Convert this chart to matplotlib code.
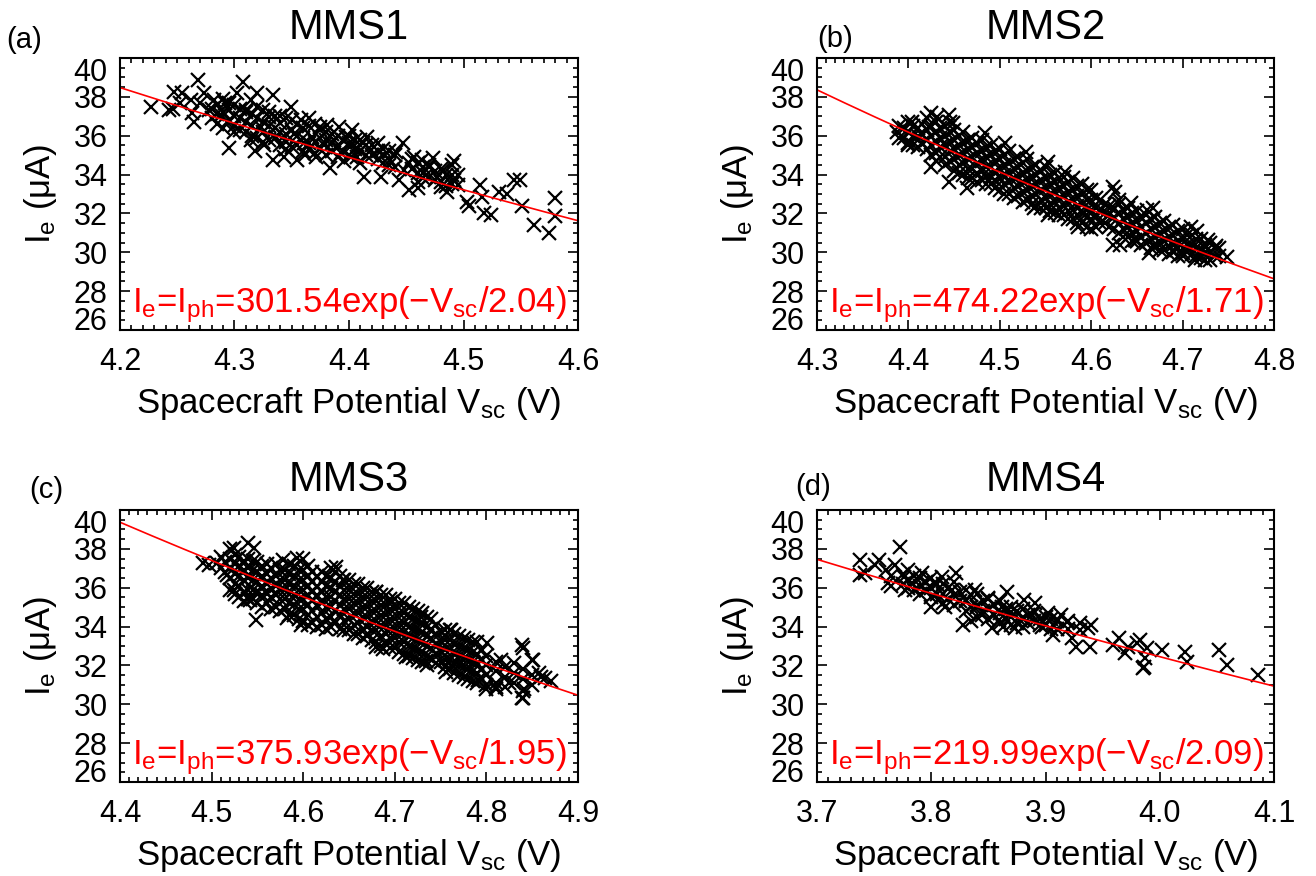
"""
photo-electron current vs spacecraft potential for the four MMS probes
"""

import numpy as np
import matplotlib
matplotlib.use('Agg')
from matplotlib import pyplot as plt
from matplotlib.ticker import MultipleLocator

plt.rcParams['font.family'] = ['Liberation Sans', 'DejaVu Sans']
plt.rcParams['mathtext.default'] = 'regular'

# panel setup
names = ['MMS1', 'MMS2', 'MMS3', 'MMS4']
tags = ['(a)', '(b)', '(c)', '(d)']
amp = [301.54, 474.22, 375.93, 219.99]   # I_ph
tau = [2.04, 1.71, 1.95, 2.09]          # V
xlims = [(4.2, 4.6), (4.3, 4.8), (4.4, 4.9), (3.7, 4.1)]
xticks = [[4.2, 4.3, 4.4, 4.5, 4.6], [4.3, 4.4, 4.5, 4.6, 4.7, 4.8],
          [4.4, 4.5, 4.6, 4.7, 4.8, 4.9], [3.7, 3.8, 3.9, 4.0, 4.1]]
xticklabels = [['4.2', '4.3', '4.4', '4.5', '4.6'], ['4.3', '4.4', '4.5', '4.6', '4.7', '4.8'],
               ['4.4', '4.5', '4.6', '4.7', '4.8', '4.9'], ['3.7', '3.8', '3.9', '4.0', '4.1']]
yticks = [26, 28, 30, 32, 34, 36, 38, 40]

# ---- MMS1: single points (Vsc, Ie) and denser core columns {Vsc: [Ie...]}
pts_mms1 = [(4.227, 37.50), (4.243, 37.32), (4.246, 37.40), (4.247, 38.27), (4.254, 38.18), (4.252, 37.67),
            (4.262, 37.84), (4.263, 37.15), (4.268, 38.87), (4.265, 36.72), (4.273, 38.18), (4.270, 37.67),
            (4.278, 37.33), (4.282, 37.84), (4.288, 37.07), (4.292, 37.67), (4.294, 36.64), (4.295, 35.35),
            (4.300, 36.20), (4.302, 38.18), (4.307, 38.78), (4.310, 37.24), (4.314, 37.84), (4.314, 35.78),
            (4.320, 38.18), (4.323, 36.47), (4.326, 35.54), (4.330, 36.98), (4.334, 38.10), (4.334, 34.75),
            (4.336, 35.95), (4.340, 36.64), (4.345, 35.30), (4.349, 37.50), (4.352, 36.10), (4.355, 34.75),
            (4.358, 36.80), (4.361, 35.60), (4.365, 36.90), (4.368, 35.95), (4.371, 34.90), (4.375, 36.47),
            (4.378, 35.54), (4.381, 36.55), (4.383, 34.32), (4.387, 35.78), (4.391, 36.47), (4.393, 35.10),
            (4.397, 35.95), (4.401, 35.44), (4.403, 36.30), (4.407, 34.92), (4.412, 35.61), (4.416, 35.95),
            (4.413, 33.90), (4.419, 35.27), (4.425, 35.61), (4.428, 33.90), (4.431, 35.00), (4.436, 34.75),
            (4.441, 35.18), (4.447, 35.61), (4.444, 33.72), (4.448, 34.24), (4.452, 34.58), (4.457, 34.92),
            (4.452, 33.20), (4.460, 33.30), (4.464, 34.75), (4.465, 34.07), (4.470, 34.40), (4.473, 34.84),
            (4.477, 33.90), (4.482, 34.24), (4.480, 33.38), (4.486, 33.12), (4.490, 34.50), (4.492, 33.72),
            (4.495, 33.46), (4.495, 34.00), (4.492, 34.70), (4.503, 32.60), (4.505, 32.40), (4.514, 33.46),
            (4.516, 32.85), (4.518, 32.00), (4.524, 31.90), (4.531, 33.10), (4.538, 33.00), (4.544, 33.70),
            (4.549, 33.70), (4.551, 32.40), (4.562, 31.43), (4.575, 31.00), (4.580, 32.80), (4.580, 31.85)]
core_mms1 = {4.28: [37.4, 36.9], 4.29: [37.9, 37.2, 36.4], 4.30: [37.6, 37.0, 36.5],
             4.31: [37.3, 36.7, 36.2], 4.32: [37.5, 36.9, 35.9], 4.33: [37.2, 36.5, 35.8],
             4.34: [37.0, 36.2, 35.5], 4.35: [36.8, 36.3, 35.4], 4.36: [36.4, 35.9, 35.2],
             4.37: [36.6, 35.7, 35.1], 4.38: [36.2, 35.8, 35.0], 4.39: [36.0, 35.4, 34.9],
             4.40: [36.0, 35.6, 35.0], 4.41: [35.8, 35.2, 34.6], 4.42: [35.5, 35.0],
             4.43: [35.3, 34.6], 4.44: [35.0, 34.4], 4.46: [34.6, 34.1, 33.6],
             4.47: [34.5, 33.9], 4.48: [34.3, 33.6], 4.49: [34.0, 33.5],
             4.285: [37.6, 37.1, 36.6], 4.295: [37.7, 37.3, 36.8], 4.305: [37.4, 36.9, 36.3],
             4.315: [37.1, 36.5, 36.0], 4.325: [37.3, 36.7, 36.2, 35.7], 4.335: [37.0, 36.4, 35.9],
             4.345: [36.9, 36.1, 35.7], 4.355: [36.6, 36.0, 35.5], 4.365: [36.5, 35.6, 35.3],
             4.375: [36.3, 35.9, 35.3], 4.385: [36.1, 35.6, 35.2], 4.395: [35.8, 35.2],
             4.405: [35.8, 35.3], 4.415: [35.5, 35.0], 4.425: [35.2, 34.8], 4.435: [35.2, 34.5],
             4.455: [34.8, 34.3], 4.465: [34.4, 33.8], 4.475: [34.2, 33.7], 4.485: [34.0, 33.4],
             4.318: [35.2], 4.343: [34.9], 4.362: [35.0], 4.396: [34.7], 4.402: [34.9]}

# ---- MMS2
pts_mms2 = [(4.387, 36.21), (4.404, 36.72), (4.400, 35.52), (4.425, 37.15), (4.431, 36.98), (4.444, 37.07),
            (4.449, 36.64), (4.422, 36.47), (4.425, 34.41), (4.444, 33.64), (4.464, 33.29), (4.484, 36.12),
            (4.506, 35.61), (4.529, 35.18), (4.553, 34.66), (4.571, 34.15), (4.624, 33.38), (4.626, 33.12),
            (4.630, 32.69), (4.644, 32.52), (4.661, 32.18), (4.537, 32.26), (4.553, 31.92), (4.586, 31.32),
            (4.624, 30.38), (4.648, 30.64), (4.663, 29.95), (4.668, 32.28), (4.709, 31.30), (4.716, 31.10),
            (4.728, 30.63), (4.737, 30.30), (4.749, 29.76), (4.714, 29.60), (4.700, 29.95), (4.668, 30.30),
            (4.632, 30.40), (4.650, 30.60)]
core_mms2 = {4.39: [36.5, 35.9], 4.40: [36.7, 36.2, 35.6], 4.41: [36.4, 36.0, 35.4],
             4.42: [36.9, 36.3, 35.8, 35.3], 4.43: [36.7, 36.2, 35.7, 35.1, 34.7],
             4.44: [36.5, 36.0, 35.5, 34.9, 34.5], 4.45: [36.3, 35.8, 35.3, 34.8, 34.2],
             4.46: [36.2, 35.6, 35.1, 34.6, 34.0], 4.47: [35.9, 35.4, 34.9, 34.3, 33.8],
             4.48: [35.8, 35.2, 34.7, 34.2, 33.7], 4.49: [35.5, 35.0, 34.4, 33.9, 33.5],
             4.50: [35.3, 34.8, 34.3, 33.8, 33.2], 4.51: [35.2, 34.6, 34.1, 33.6, 33.0],
             4.52: [34.9, 34.4, 33.9, 33.4, 32.9], 4.53: [34.8, 34.2, 33.7, 33.2, 32.7],
             4.54: [34.5, 34.0, 33.5, 33.0, 32.4], 4.55: [34.4, 33.8, 33.3, 32.8, 32.3],
             4.56: [34.1, 33.6, 33.1, 32.6, 32.0], 4.57: [33.9, 33.4, 32.9, 32.4, 31.9],
             4.58: [33.8, 33.2, 32.7, 32.2, 31.7], 4.59: [33.5, 33.0, 32.5, 32.0, 31.5],
             4.60: [33.2, 32.7, 32.2, 31.7, 31.2], 4.61: [32.7, 32.1, 31.5], 4.62: [32.4, 31.9, 31.3],
             4.63: [32.5, 32.0, 31.5, 31.0], 4.64: [32.3, 31.8, 31.3, 30.8],
             4.65: [32.1, 31.6, 31.1, 30.6], 4.66: [31.9, 31.5, 31.0, 30.5],
             4.67: [31.8, 31.3, 30.8, 30.3], 4.68: [31.6, 31.1, 30.6, 30.1],
             4.69: [31.4, 30.9, 30.4, 30.0], 4.70: [31.2, 30.7, 30.2, 29.8],
             4.71: [30.9, 30.4, 29.9], 4.72: [30.7, 30.1, 29.7], 4.73: [30.5, 30.0, 29.6],
             4.74: [30.2, 29.8],
             4.395: [36.4, 35.9], 4.405: [36.5, 36.0, 35.5], 4.415: [36.6, 36.1, 35.6],
             4.425: [36.5, 36.0, 35.5, 35.0], 4.435: [36.4, 35.9, 35.4, 34.9],
             4.445: [36.7, 36.2, 35.7, 35.2, 34.7], 4.455: [36.0, 35.5, 35.0, 34.5, 34.1],
             4.465: [35.8, 35.3, 34.8, 34.3, 33.8], 4.475: [35.6, 35.1, 34.6, 34.1, 33.6],
             4.485: [35.4, 34.9, 34.4, 33.9, 33.5], 4.495: [35.2, 34.7, 34.2, 33.7, 33.3],
             4.505: [35.0, 34.5, 34.0, 33.5, 33.0], 4.515: [34.8, 34.3, 33.8, 33.3, 32.8],
             4.525: [34.6, 34.1, 33.6, 33.1, 32.6], 4.535: [34.4, 33.9, 33.4, 32.9, 32.5],
             4.545: [34.2, 33.7, 33.2, 32.7, 32.3], 4.555: [34.0, 33.5, 33.0, 32.5, 32.1],
             4.565: [33.8, 33.3, 32.8, 32.3, 31.9], 4.575: [33.6, 33.1, 32.6, 32.1, 31.7],
             4.585: [33.4, 32.9, 32.4, 31.9, 31.5], 4.595: [33.2, 32.7, 32.2, 31.8, 31.3],
             4.605: [32.8, 32.3, 31.8, 31.3], 4.615: [32.5, 32.0, 31.5], 4.625: [32.3, 31.8, 31.2],
             4.635: [32.2, 31.7, 31.2, 30.8], 4.645: [32.0, 31.5, 31.0, 30.6],
             4.655: [31.8, 31.3, 30.8, 30.4], 4.665: [31.7, 31.2, 30.7, 30.2],
             4.675: [31.5, 31.0, 30.5, 30.1], 4.685: [31.3, 30.8, 30.3, 29.9],
             4.695: [31.1, 30.6, 30.2, 29.8], 4.705: [30.9, 30.4, 30.0], 4.715: [30.7, 30.2, 29.8],
             4.725: [30.4, 30.0, 29.6], 4.735: [30.2, 29.8]}

# ---- MMS3
pts_mms3 = [(4.491, 37.26), (4.497, 37.17), (4.506, 37.26), (4.524, 38.03), (4.540, 38.28), (4.546, 38.03),
            (4.517, 36.66), (4.524, 35.88), (4.535, 35.80), (4.542, 35.37), (4.549, 34.34), (4.578, 37.43),
            (4.593, 37.51), (4.582, 34.42), (4.598, 34.08), (4.636, 37.08), (4.643, 36.40), (4.680, 35.80),
            (4.696, 35.28), (4.680, 32.94), (4.687, 32.85), (4.712, 32.42), (4.729, 34.51), (4.734, 32.25),
            (4.756, 31.64), (4.763, 31.99), (4.761, 33.83), (4.839, 33.05), (4.839, 30.32), (4.841, 30.77),
            (4.851, 32.28), (4.864, 31.35), (4.816, 32.28), (4.801, 33.14), (4.791, 31.25), (4.800, 30.80),
            (4.810, 30.90), (4.825, 31.10), (4.857, 31.60), (4.870, 31.20)]
core_mms3 = {4.51: [37.6, 37.0], 4.52: [38.0, 37.5, 37.0, 36.5, 35.9],
             4.53: [37.6, 37.1, 36.6, 36.1, 35.5], 4.54: [37.5, 37.0, 36.5, 35.9, 35.4],
             4.55: [37.3, 36.8, 36.3, 35.8, 35.2], 4.56: [37.2, 36.7, 36.2, 35.7, 35.2],
             4.57: [37.2, 36.6, 36.1, 35.6, 35.0], 4.58: [36.9, 36.4, 35.9, 35.4, 34.9],
             4.59: [37.1, 36.6, 36.1, 35.6, 35.1, 34.6], 4.60: [37.5, 36.9, 36.4, 35.9, 35.4, 34.9, 34.3],
             4.61: [36.8, 36.3, 35.8, 35.3, 34.8, 34.2], 4.62: [36.8, 36.3, 35.8, 35.2, 34.7, 34.1],
             4.63: [37.0, 36.5, 36.0, 35.5, 35.0, 34.5, 34.0], 4.64: [36.6, 36.1, 35.6, 35.1, 34.6, 33.9],
             4.65: [36.4, 35.9, 35.4, 34.9, 34.4, 33.8], 4.66: [36.2, 35.7, 35.2, 34.7, 34.2, 33.6],
             4.67: [36.0, 35.5, 35.0, 34.5, 34.0, 33.5], 4.68: [35.8, 35.3, 34.8, 34.3, 33.8, 33.2],
             4.69: [35.6, 35.1, 34.6, 34.1, 33.6, 33.1], 4.70: [35.4, 34.9, 34.4, 33.9, 33.4, 32.9],
             4.71: [35.2, 34.7, 34.2, 33.7, 33.2, 32.6], 4.72: [34.9, 34.4, 33.9, 33.4, 32.9, 32.4],
             4.73: [34.7, 34.2, 33.7, 33.2, 32.7, 32.2], 4.74: [34.4, 33.9, 33.4, 32.9, 32.4],
             4.75: [33.7, 33.2, 32.7, 32.2], 4.76: [33.8, 33.3, 32.8, 32.3, 31.8],
             4.77: [33.5, 33.0, 32.5, 32.0, 31.5], 4.78: [33.3, 32.8, 32.3, 31.8, 31.3],
             4.79: [33.2, 32.6, 32.1, 31.6, 31.1], 4.80: [32.5, 32.0, 31.5, 31.0],
             4.81: [32.2, 31.7, 31.1, 30.8], 4.82: [31.9, 31.4, 30.9], 4.83: [32.1, 31.6, 31.1],
             4.84: [32.9, 31.8, 31.3, 30.7, 30.3], 4.85: [32.3, 31.5, 31.0], 4.86: [31.4],
             4.515: [37.3, 36.8], 4.525: [37.7, 37.2, 36.7, 36.2, 35.7],
             4.535: [37.4, 36.9, 36.4, 35.8, 35.3], 4.545: [37.4, 36.9, 36.4, 35.9, 35.4],
             4.555: [37.1, 36.6, 36.1, 35.6, 35.0], 4.565: [37.0, 36.5, 36.0, 35.5, 34.9],
             4.575: [36.9, 36.4, 35.9, 35.4, 34.8], 4.585: [37.2, 36.7, 36.2, 35.7, 35.2, 34.6],
             4.595: [36.9, 36.4, 35.9, 35.4, 34.9, 34.4], 4.605: [37.1, 36.6, 36.1, 35.6, 35.1, 34.6, 34.1],
             4.615: [36.6, 36.1, 35.6, 35.1, 34.5, 34.0], 4.625: [36.6, 36.1, 35.5, 35.0, 34.4, 33.9],
             4.635: [36.8, 36.3, 35.8, 35.3, 34.8, 34.2], 4.645: [36.4, 35.9, 35.4, 34.9, 34.3, 33.8],
             4.655: [36.2, 35.7, 35.2, 34.7, 34.1, 33.6], 4.665: [36.0, 35.5, 35.0, 34.5, 33.9, 33.4],
             4.675: [35.8, 35.3, 34.8, 34.3, 33.8, 33.3], 4.685: [35.6, 35.1, 34.6, 34.1, 33.5, 33.0],
             4.695: [35.4, 34.9, 34.4, 33.9, 33.4, 32.9], 4.705: [35.2, 34.7, 34.2, 33.7, 33.2, 32.7],
             4.715: [35.0, 34.5, 34.0, 33.5, 33.0, 32.5], 4.725: [34.8, 34.3, 33.8, 33.3, 32.8, 32.3],
             4.735: [34.5, 34.0, 33.5, 33.0, 32.5, 32.0], 4.745: [34.1, 33.6, 33.1, 32.6, 32.1],
             4.755: [33.8, 33.3, 32.8, 32.3, 31.9], 4.765: [33.6, 33.1, 32.6, 32.1, 31.6],
             4.775: [33.4, 32.9, 32.4, 31.9, 31.4], 4.785: [33.2, 32.7, 32.2, 31.7, 31.2],
             4.795: [32.8, 32.3, 31.8, 31.3]}

# ---- MMS4
pts_mms4 = [(3.738, 37.43), (3.738, 36.66), (3.742, 36.74), (3.754, 37.43), (3.751, 37.17), (3.760, 36.91),
            (3.773, 38.11), (3.768, 37.17), (3.762, 36.23), (3.776, 36.57), (3.777, 35.88), (3.783, 36.23),
            (3.792, 36.74), (3.795, 35.88), (3.800, 35.03), (3.802, 36.23), (3.809, 36.57), (3.806, 35.37),
            (3.822, 36.74), (3.818, 35.88), (3.812, 35.03), (3.828, 34.09), (3.830, 35.37), (3.838, 35.88),
            (3.840, 35.03), (3.844, 34.60), (3.853, 33.92), (3.850, 35.46), (3.859, 34.34), (3.862, 35.03),
            (3.866, 35.80), (3.870, 34.77), (3.873, 33.91), (3.878, 34.34), (3.881, 35.37), (3.888, 34.60),
            (3.891, 35.20), (3.897, 34.00), (3.902, 34.69), (3.907, 33.57), (3.911, 34.34), (3.914, 34.60),
            (3.919, 34.26), (3.923, 33.40), (3.927, 32.97), (3.937, 33.91), (3.940, 34.09), (3.939, 32.97),
            (3.959, 33.06), (3.964, 33.40), (3.972, 32.97), (3.980, 33.14), (3.983, 33.31), (3.986, 31.94),
            (3.989, 32.88), (3.970, 32.62), (3.987, 32.40), (3.985, 31.85), (4.002, 32.79), (4.022, 32.70),
            (4.024, 32.18), (4.052, 32.79), (4.059, 32.02), (4.086, 31.50)]
core_mms4 = {3.78: [36.9, 36.4, 36.0], 3.79: [36.5, 36.1, 35.7], 3.80: [36.5, 36.0, 35.5],
             3.81: [36.2, 35.7, 35.2], 3.82: [36.3, 35.6, 35.1], 3.83: [35.9, 35.3, 34.8],
             3.84: [35.7, 35.1, 34.5], 3.85: [35.4, 34.9, 34.4], 3.86: [35.3, 34.7, 34.2],
             3.87: [35.0, 34.5, 34.1], 3.88: [34.9, 34.4, 34.0], 3.89: [34.8, 34.3],
             3.90: [34.5, 34.1], 3.92: [34.3, 33.9], 3.93: [34.2, 33.8],
             3.775: [36.7, 36.2], 3.785: [36.6, 35.9], 3.795: [36.3, 35.9], 3.805: [36.2, 35.7],
             3.815: [36.0, 35.4], 3.825: [35.8, 35.3], 3.835: [35.6, 35.0], 3.845: [35.3, 34.8],
             3.855: [35.1, 34.6], 3.865: [34.9, 34.4], 3.875: [34.8, 34.2], 3.885: [34.6, 34.2],
             3.895: [34.4, 34.1], 3.91: [34.3, 33.9],
             3.765: [36.6, 36.1], 3.835: [35.6, 35.0, 34.3], 3.863: [34.0], 3.905: [34.4, 33.9]}

pts = [pts_mms1, pts_mms2, pts_mms3, pts_mms4]
cores = [core_mms1, core_mms2, core_mms3, core_mms4]

# axes boxes in figure fractions (left, bottom, width, height)
W, H = 1316., 876.
boxes = [(120/W, 1-330/H, 458/W, 272/H), (817/W, 1-330/H, 457/W, 272/H),
         (120/W, 1-782/H, 458/W, 272/H), (817/W, 1-782/H, 457/W, 272/H)]
tag_pos = [(6/W, 1-40/H), (817/W, 1-39/H), (29/W, 1-490/H), (795/W, 1-487/H)]


def collect(single, core):
    v = [p[0] for p in single]
    ie = [p[1] for p in single]
    for vv, col in core.items():
        v += [vv] * len(col)
        ie += col
    return np.array(v), np.array(ie)


fig = plt.figure(figsize=(13.16, 8.76), dpi=100)

for k in range(4):
    ax = fig.add_axes(boxes[k])
    v, ie = collect(pts[k], cores[k])
    ax.plot(v, ie, 'x', color='k', ms=10.5, mew=1.6)

    # fit curve Ie = Iph exp(-Vsc/T)
    vfit = np.linspace(xlims[k][0], xlims[k][1], 200)
    ax.plot(vfit, amp[k]*np.exp(-vfit/tau[k]), c='r', lw=1.2)

    ax.set_xlim(xlims[k])
    ax.set_ylim(26, 40)
    ax.set_xticks(xticks[k], labels=xticklabels[k])
    ax.set_yticks(yticks, labels=[str(t) for t in yticks])
    ax.xaxis.set_minor_locator(MultipleLocator(0.01))
    ax.yaxis.set_minor_locator(MultipleLocator(0.5))
    ax.tick_params(which='both', direction='in', top=True, right=True, width=1.2)
    ax.tick_params(which='major', length=7, labelsize=22)
    ax.tick_params(axis='x', which='major', pad=12)
    ax.tick_params(axis='y', which='major', pad=9)
    ax.tick_params(which='minor', length=3.5)
    for s in ax.spines.values():
        s.set_linewidth(1.5)
    ylab = ax.get_yticklabels()
    ylab[0].set_va('baseline')
    ylab[-1].set_va('top')

    ax.set_title(names[k], fontsize=30, pad=14)
    ax.set_xlabel('Spacecraft Potential $V_{sc}$ (V)', fontsize=25, labelpad=6)
    ax.set_ylabel('$I_e$ (μA)', fontsize=25, labelpad=10)

    eq = '$I_e$=$I_{ph}$=%.2fexp(−$V_{sc}$/%.2f)' % (amp[k], tau[k])
    ax.text(0.026, 0.066, eq, transform=ax.transAxes, color='red', fontsize=25,
            ha='left', va='baseline')

    fig.text(tag_pos[k][0], tag_pos[k][1], tags[k], fontsize=21, va='center', ha='left')

fig.savefig('out.png', dpi=100)
